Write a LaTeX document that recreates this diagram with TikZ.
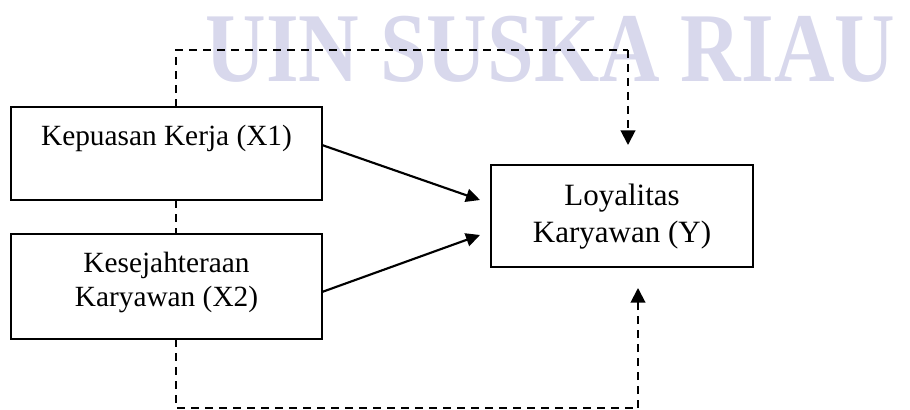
\documentclass[tikz,border=0pt]{standalone}
\usepackage{fontspec}
\setmainfont{Liberation Serif}
\usetikzlibrary{arrows.meta,calc}
\definecolor{wmark}{RGB}{216,216,236}
\tikzset{
  box/.style={draw=black, line width=1.5pt, rectangle, inner sep=0pt},
  lbl/.style={font=\fontsize{22}{25.5}\selectfont, inner sep=0pt, align=center},
  lbly/.style={font=\fontsize{23.25}{27}\selectfont, inner sep=0pt, align=center},
  solidarrow/.style={line width=1.6pt, -{Triangle[length=10.5pt,width=10pt]}},
  dashline/.style={line width=1.5pt, dash pattern=on 6.2pt off 4.3pt},
  dasharrow/.style={dashline, -{Triangle[length=11pt,width=11pt]}},
}
\begin{document}
\begin{tikzpicture}[x=0.75pt,y=-0.75pt]
\useasboundingbox (0,0) rectangle (910,410);
% watermark
\node[text=wmark, inner sep=0pt, anchor=base, xscale=0.85, font=\fontsize{74}{74}\selectfont\bfseries] (wm) at (550.5,82) {UIN SUSKA RIAU};
% boxes
\node[box, minimum width=311*0.75pt, minimum height=93*0.75pt] (x1) at (166.5,153.5) {};
\node[box, minimum width=311*0.75pt, minimum height=105*0.75pt] (x2) at (166.5,286.5) {};
\node[box, minimum width=262*0.75pt, minimum height=102*0.75pt] (y) at (622,216) {};
% texts
\node[lbl, anchor=base] (x1t) at (166.5,145) {Kepuasan Kerja (X1)};
\node[lbl, anchor=base] (x2a) at (166.5,272) {Kesejahteraan};
\node[lbl, anchor=base] (x2b) at (166.5,306) {Karyawan (X2)};
\node[lbly, anchor=base] (ya) at (622,205) {Loyalitas};
\node[lbly, anchor=base] (yb) at (622,242) {Karyawan (Y)};
% coordinates
\coordinate (a1s) at (322,145);
\coordinate (a1e) at (480,200);
\coordinate (a2s) at (322,292);
\coordinate (a2e) at (480,235);
\coordinate (x1top) at (176,107);
\coordinate (x1bot) at (176,200);
\coordinate (x2top) at (176,234);
\coordinate (x2bot) at (176,339);
\coordinate (toptip) at (628,145);
\coordinate (topcorner) at (628,50);
\coordinate (bottip) at (638,288);
\coordinate (botcorner) at (638,408);
% solid arrows
\draw[solidarrow] (a1s) -- (a1e);
\draw[solidarrow] (a2s) -- (a2e);
% dashed
\draw[dashline] (x1top) |- (topcorner);
\draw[dasharrow] (topcorner) -- (toptip);
\draw[dashline] (x1bot) -- (x2top);
\draw[dashline] (x2bot) |- (botcorner);
\draw[dasharrow] (botcorner) -- (bottip);
\end{tikzpicture}
\end{document}
